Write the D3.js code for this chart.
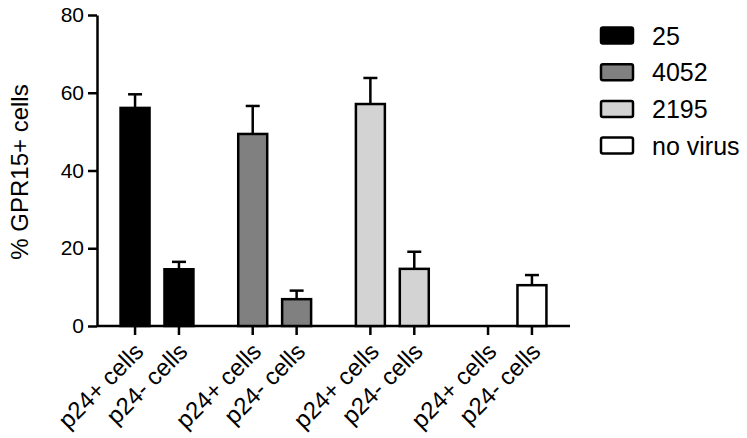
<!DOCTYPE html>
<html>
<head>
<meta charset="utf-8">
<script src="https://cdn.jsdelivr.net/npm/d3@7"></script>
<style>
  body { margin: 0; background: #fff; }
  svg { display: block; font-family: "Liberation Sans", Arial, sans-serif; }
</style>
</head>
<body>
<div id="chart"></div>
<script>
// data
const viruses = ['25', '4052', '2195', 'no virus'];
const cellTypes = ['p24+ cells', 'p24- cells'];
const meanPos = [56.1, 49.4, 57.1, 0];
const meanNeg = [14.6, 6.9, 14.7, 10.5];
const semPos = [3.5, 7.2, 6.7, 0];
const semNeg = [1.9, 2.2, 4.4, 2.6];
const fills = ['#000000', '#808080', '#d3d3d3', '#ffffff'];
const yTicks = [0, 20, 40, 60, 80];

const width = 747, height = 438;

const svg = d3.select('#chart')
    .append('svg')
    .attr('width', width)
    .attr('height', height);

// flatten into one row per bar
const rows = [];
viruses.forEach((v, i) => {
    rows.push({ virus: v, cell: cellTypes[0], mean: meanPos[i], sem: semPos[i], fill: fills[i] });
    rows.push({ virus: v, cell: cellTypes[1], mean: meanNeg[i], sem: semNeg[i], fill: fills[i] });
});

const x0 = d3.scaleBand()
    .domain(viruses)
    .range([97, 570])
    .paddingInner(0)
    .paddingOuter(0.01);

const x1 = d3.scaleBand()
    .domain(cellTypes)
    .range([0, x0.bandwidth()])
    .paddingInner(0.34)
    .paddingOuter(0.51);

const y = d3.scaleLinear()
    .domain([0, 80])
    .range([326, 15]);

const xPos = d => x0(d.virus) + x1(d.cell);

// y axis
const yAxis = svg.append('g')
    .attr('transform', 'translate(97,0)')
    .call(d3.axisLeft(y).tickValues(yTicks).tickSize(9).tickSizeOuter(0).tickPadding(4));
yAxis.select('.domain').attr('stroke-width', 2.5);
yAxis.selectAll('.tick line').attr('stroke-width', 2.5);
yAxis.selectAll('.tick text')
    .attr('fill', '#000')
    .style('font-size', '21px')
    .style('font-family', '"Liberation Sans", Arial, sans-serif');

// x axis: one tick per bar
const xAxis = svg.append('g').attr('transform', 'translate(0,326)');
xAxis.append('line')
    .attr('x1', 97).attr('x2', 570)
    .attr('stroke', '#000').attr('stroke-width', 2.5);
xAxis.selectAll('line.tick')
    .data(rows)
    .join('line')
    .attr('class', 'tick')
    .attr('x1', d => xPos(d) + x1.bandwidth() / 2)
    .attr('x2', d => xPos(d) + x1.bandwidth() / 2)
    .attr('y1', 0).attr('y2', 9)
    .attr('stroke', '#000').attr('stroke-width', 2.5);
xAxis.selectAll('text')
    .data(rows)
    .join('text')
    .attr('text-anchor', 'end')
    .attr('transform', d => `translate(${xPos(d) + x1.bandwidth() / 2 + 10},27) rotate(-45)`)
    .style('font-size', '24px')
    .text(d => d.cell);

// error bars (upper only)
const err = svg.append('g')
    .selectAll('g')
    .data(rows.filter(d => d.sem > 0))
    .join('g')
    .attr('stroke', '#000')
    .attr('stroke-width', 2.5);
err.append('line')
    .attr('x1', d => xPos(d) + x1.bandwidth() / 2)
    .attr('x2', d => xPos(d) + x1.bandwidth() / 2)
    .attr('y1', d => y(d.mean))
    .attr('y2', d => y(d.mean + d.sem));
err.append('line')
    .attr('x1', d => xPos(d) + x1.bandwidth() / 2 - 7)
    .attr('x2', d => xPos(d) + x1.bandwidth() / 2 + 7)
    .attr('y1', d => y(d.mean + d.sem))
    .attr('y2', d => y(d.mean + d.sem));

// bars
svg.append('g')
    .selectAll('rect')
    .data(rows.filter(d => d.mean > 0))
    .join('rect')
    .attr('x', xPos)
    .attr('y', d => y(d.mean))
    .attr('width', x1.bandwidth())
    .attr('height', d => y(0) - y(d.mean))
    .attr('fill', d => d.fill)
    .attr('stroke', '#000')
    .attr('stroke-width', 2.5);

// y title
svg.append('text')
    .attr('transform', 'translate(28,172) rotate(-90)')
    .attr('text-anchor', 'middle')
    .style('font-size', '24px')
    .text('% GPR15+ cells');

// legend
const legend = svg.append('g')
    .selectAll('g')
    .data(viruses)
    .join('g')
    .attr('transform', (d, i) => `translate(601,${35.5 + i * 36.7})`);
legend.append('rect')
    .attr('x', 0).attr('y', -8)
    .attr('width', 32).attr('height', 16)
    .attr('rx', 2)
    .attr('fill', (d, i) => fills[i])
    .attr('stroke', '#000')
    .attr('stroke-width', 2.5);
legend.append('text')
    .attr('x', 51)
    .attr('dy', '0.36em')
    .style('font-size', '25px')
    .text(d => d);
</script>
</body>
</html>
